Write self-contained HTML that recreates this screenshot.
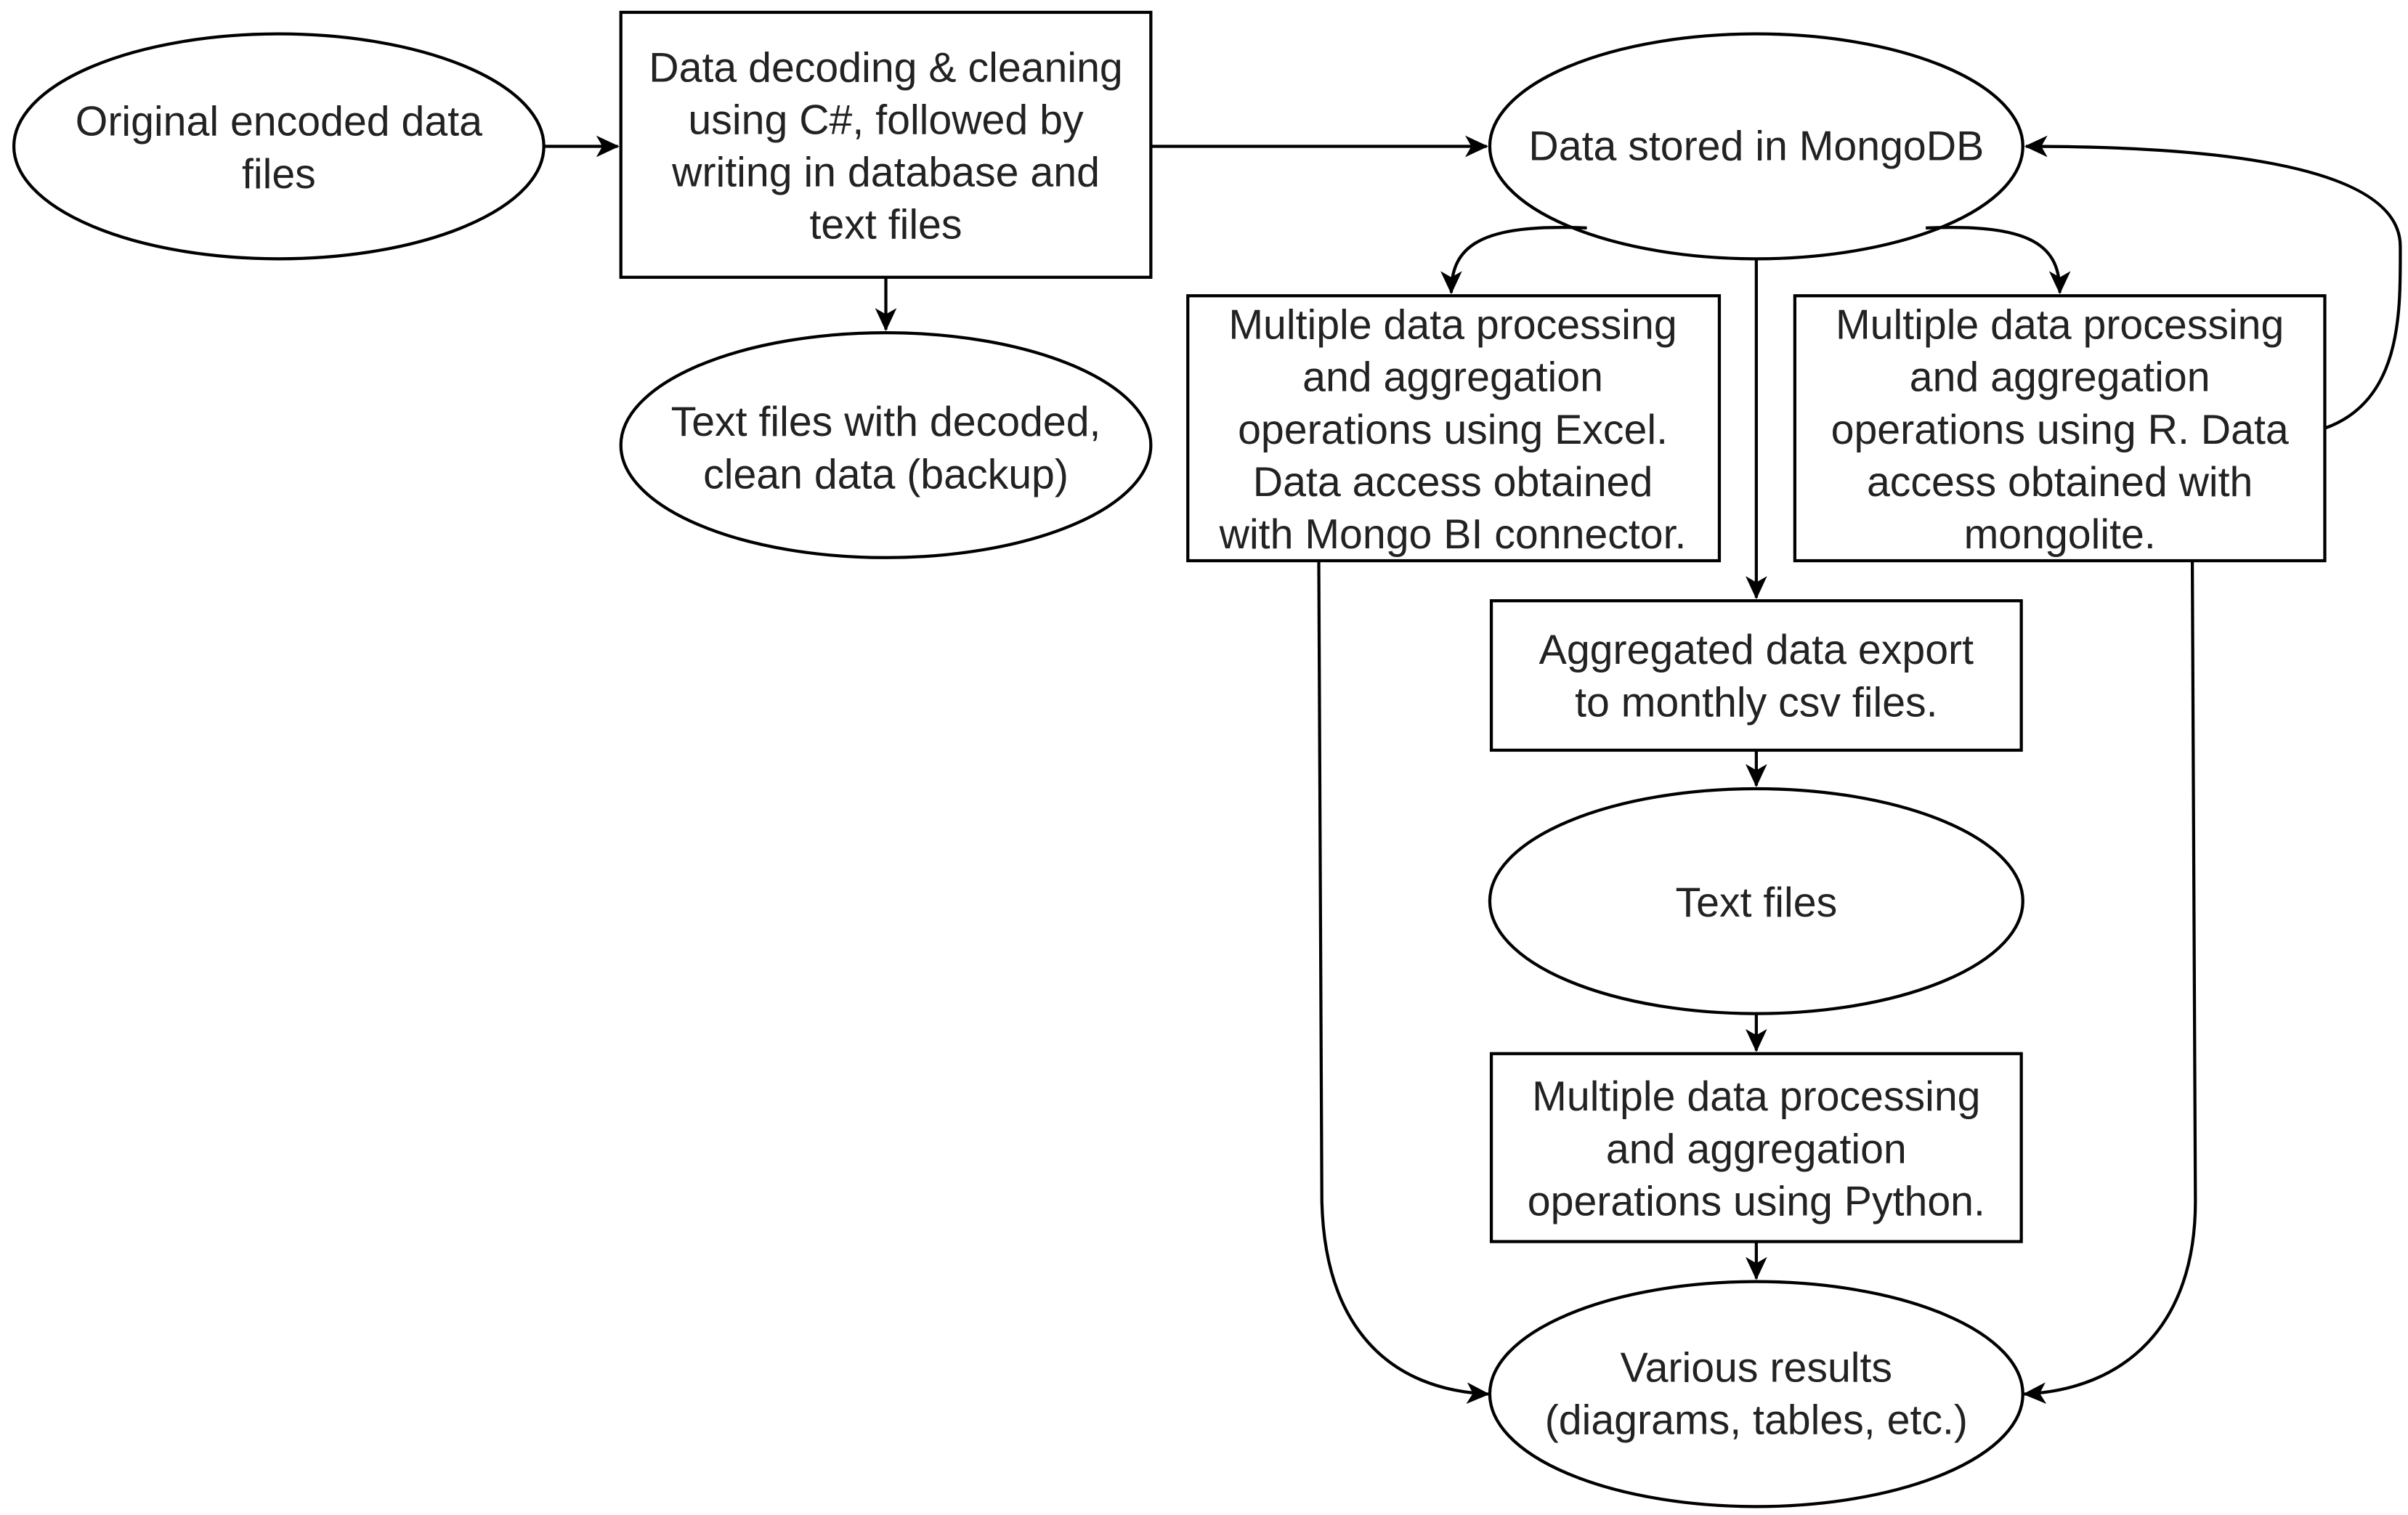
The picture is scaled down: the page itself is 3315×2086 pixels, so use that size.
<!DOCTYPE html>
<html><head><meta charset="utf-8"><style>
html,body{margin:0;padding:0;background:#fff;}
svg{display:block;}
text{font-family:"Liberation Sans",sans-serif;font-size:27px;fill:#222;text-anchor:middle;}
</style></head><body>
<svg width="3315" height="2086" viewBox="0 0 1563 983.5" preserveAspectRatio="none" xmlns="http://www.w3.org/2000/svg">
<defs><marker id="a" markerWidth="10" markerHeight="10" refX="9" refY="5" orient="auto" markerUnits="userSpaceOnUse"><path d="M0,0 L10,5 L0,10 L3,5 z" fill="#000"/></marker>
<marker id="b" markerWidth="16" markerHeight="16" refX="14" refY="8" orient="auto" markerUnits="userSpaceOnUse"><path d="M0,1 L15,8 L0,15 L4,8 z" fill="#000"/></marker></defs>
<g fill="#fff" stroke="#000" stroke-width="2">
<ellipse cx="181" cy="95" rx="172" ry="73"/>
<rect x="403" y="8" width="344" height="172"/>
<ellipse cx="575" cy="289" rx="172" ry="73"/>
<ellipse cx="1140" cy="95" rx="173" ry="73"/>
<rect x="771" y="192" width="345" height="172"/>
<rect x="1165" y="192" width="344" height="172"/>
<rect x="968" y="390" width="344" height="97"/>
<ellipse cx="1140" cy="585" rx="173" ry="73"/>
<rect x="968" y="684" width="344" height="122"/>
<ellipse cx="1140" cy="905" rx="173" ry="73"/>
</g>
<g fill="none" stroke="#000" stroke-width="2" marker-end="url(#b)">
<path d="M353,95 L401,95"/>
<path d="M747,95 L965,95"/>
<path d="M575,180 L575,214"/>
<path d="M1140,168 L1140,388"/>
<path d="M1030,148 C960,145 942,160 942,190"/>
<path d="M1250,148 C1320,145 1337,160 1337,190"/>
<path d="M1509,278 C1560,260 1558,200 1558,160 C1558,100 1400,95 1315,95"/>
<path d="M1140,487 L1140,510"/>
<path d="M1140,658 L1140,682"/>
<path d="M1140,806 L1140,830"/>
<path d="M856,364 L858,780 C860,860 900,902 966,905"/>
<path d="M1423,364 L1425,780 C1425,860 1380,902 1314,905"/>
</g>
<text x="181" y="88">Original encoded data</text>
<text x="181" y="122">files</text>
<text x="575" y="53">Data decoding &amp; cleaning</text>
<text x="575" y="87">using C#, followed by</text>
<text x="575" y="121">writing in database and</text>
<text x="575" y="155">text files</text>
<text x="575" y="283">Text files with decoded,</text>
<text x="575" y="317">clean data (backup)</text>
<text x="1140" y="104">Data stored in MongoDB</text>
<text x="943" y="220">Multiple data processing</text>
<text x="943" y="254">and aggregation</text>
<text x="943" y="288">operations using Excel.</text>
<text x="943" y="322">Data access obtained</text>
<text x="943" y="356">with Mongo BI connector.</text>
<text x="1337" y="220">Multiple data processing</text>
<text x="1337" y="254">and aggregation</text>
<text x="1337" y="288">operations using R. Data</text>
<text x="1337" y="322">access obtained with</text>
<text x="1337" y="356">mongolite.</text>
<text x="1140" y="431">Aggregated data export</text>
<text x="1140" y="465">to monthly csv files.</text>
<text x="1140" y="595">Text files</text>
<text x="1140" y="721">Multiple data processing</text>
<text x="1140" y="755">and aggregation</text>
<text x="1140" y="789">operations using Python.</text>
<text x="1140" y="897">Various results</text>
<text x="1140" y="931">(diagrams, tables, etc.)</text>
</svg>
</body></html>
